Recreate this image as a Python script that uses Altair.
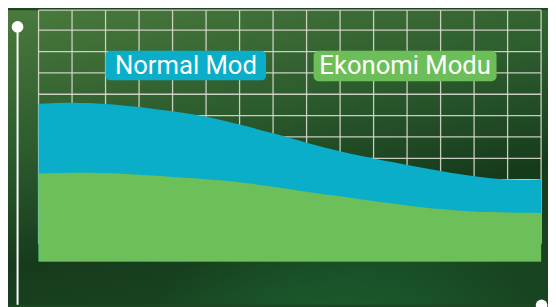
import altair as alt
import pandas as pd

# ---- data (x in grid columns, y in grid rows) ----
x_pos = [0, 0.5, 1, 1.5, 2, 2.5, 3, 3.5, 4, 4.5, 5, 5.5, 6, 6.5, 7, 7.5,
         8, 8.5, 9, 9.5, 10, 10.5, 11, 11.5, 12, 12.5, 13, 13.5, 14, 14.5, 15]
normal_mod = [6.55, 6.60, 6.61, 6.59, 6.54, 6.48, 6.41, 6.30, 6.21, 6.09, 5.95,
              5.78, 5.58, 5.38, 5.17, 4.95, 4.73, 4.52, 4.33, 4.15, 3.99, 3.84,
              3.69, 3.55, 3.41, 3.27, 3.15, 3.06, 3.00, 2.98, 3.02]
ekonomi_modu = [3.28, 3.31, 3.33, 3.33, 3.31, 3.28, 3.23, 3.18, 3.13, 3.08, 3.02,
                2.96, 2.88, 2.78, 2.67, 2.55, 2.43, 2.32, 2.22, 2.11, 2.00, 1.89,
                1.79, 1.70, 1.62, 1.56, 1.51, 1.48, 1.46, 1.45, 1.44]

labels = ["Normal Mod", "Ekonomi Modu"]
label_colors = ["#0aaec9", "#6cbf58"]
box_x = [2.0, 8.21]
box_x2 = [6.79, 13.67]
box_y = [9.04, 9.04]
box_y2 = [7.65, 7.61]
text_x = [4.40, 10.94]
text_y = [8.34, 8.33]

grid_x = list(range(16))
Y_MIN = -0.8306
Y_MAX = 10.937
grid_y = list(range(11)) + [Y_MAX]

BLUE = "#0aaec9"
GREEN = "#6dbf59"

W, H = 510, 255
PAD = {"left": 31, "top": 0, "right": 7, "bottom": 44}

xs = alt.Scale(domain=[0, 15], nice=False, zero=False)
ys = alt.Scale(domain=[Y_MIN, Y_MAX], nice=False, zero=False)

curve = pd.DataFrame({"x": x_pos, "normal": normal_mod, "eko": ekonomi_modu,
                      "base": [Y_MIN] * len(x_pos)})
lab = pd.DataFrame({"label": labels, "color": label_colors, "bx": box_x, "bx2": box_x2,
                    "by": box_y, "by2": box_y2, "tx": text_x, "ty": text_y})
gx = pd.DataFrame({"gx": grid_x, "y0": [0] * len(grid_x), "y1": [Y_MAX] * len(grid_x)})
gy = pd.DataFrame({"gy": grid_y, "x0": [0] * len(grid_y), "x1": [15] * len(grid_y)})
one = pd.DataFrame({"k": [1]})

# background
bg = alt.Chart(one).mark_rect(
    fill=alt.Gradient(
        gradient="linear",
        stops=[alt.GradientStop(color="#4a7a3c", offset=0),
               alt.GradientStop(color="#2b5a2d", offset=0.45),
               alt.GradientStop(color="#163b1c", offset=0.78),
               alt.GradientStop(color="#184421", offset=1)],
        x1=0, y1=0, x2=0.35, y2=1)
).encode(x=alt.value(-PAD["left"]), x2=alt.value(W + PAD["right"]),
         y=alt.value(0), y2=alt.value(H + PAD["bottom"]))

glow = alt.Chart(one).mark_rect(
    fill=alt.Gradient(
        gradient="radial",
        stops=[alt.GradientStop(color="rgba(30,118,58,0.85)", offset=0),
               alt.GradientStop(color="rgba(30,118,58,0)", offset=1)],
        x1=0.62, y1=1.0, r1=0, x2=0.62, y2=1.0, r2=0.42)
).encode(x=alt.value(-PAD["left"]), x2=alt.value(W + PAD["right"]),
         y=alt.value(0), y2=alt.value(H + PAD["bottom"]))

grid_style = dict(color="#dcdcd2", strokeWidth=1.3, opacity=0.9)
vgrid = alt.Chart(gx).mark_rule(**grid_style).encode(
    x=alt.X("gx:Q", scale=xs, axis=None),
    y=alt.Y("y1:Q", scale=ys, axis=None), y2="y0:Q")
hgrid = alt.Chart(gy).mark_rule(**grid_style).encode(
    y=alt.Y("gy:Q", scale=ys, axis=None),
    x=alt.X("x0:Q", scale=xs, axis=None), x2="x1:Q")

base = alt.Chart(curve)
blue = base.mark_area(color=BLUE, interpolate="basis").encode(
    x=alt.X("x:Q", scale=xs, axis=None),
    y=alt.Y("normal:Q", scale=ys, axis=None),
    y2="base:Q")
green = base.mark_area(color=GREEN, interpolate="basis").encode(
    x=alt.X("x:Q", scale=xs, axis=None),
    y=alt.Y("eko:Q", scale=ys, axis=None),
    y2="base:Q")

boxes = alt.Chart(lab).mark_rect(cornerRadius=5).encode(
    x=alt.X("bx:Q", scale=xs, axis=None), x2="bx2:Q",
    y=alt.Y("by:Q", scale=ys, axis=None), y2="by2:Q",
    color=alt.Color("color:N", scale=None, legend=None))
texts = alt.Chart(lab).mark_text(
    font="Roboto", fontSize=26, color="white", align="center", baseline="middle"
).encode(x=alt.X("tx:Q", scale=xs, axis=None),
         y=alt.Y("ty:Q", scale=ys, axis=None),
         text="label:N")

# decorations
vline = alt.Chart(one).mark_rule(color="white", strokeWidth=2).encode(
    x=alt.value(-21.3), y=alt.value(17), y2=alt.value(H + PAD["bottom"]))
dot1 = alt.Chart(one).mark_point(filled=True, shape="circle", size=140,
                                 color="white", opacity=1).encode(
    x=alt.value(-21.3), y=alt.value(17))
dot2 = alt.Chart(one).mark_point(filled=True, shape="circle", size=140,
                                 color="white", opacity=1).encode(
    x=alt.value(510.5), y=alt.value(299.5))

chart = alt.layer(bg, glow, vgrid, hgrid, blue, green, boxes, texts, vline, dot1, dot2).properties(
    width=W, height=H,
    autosize=alt.AutoSizeParams(type="none"),
    padding=PAD,
    background="#1d4622",
).configure_view(stroke=None)

chart.save("out.html", embed_options={"renderer": "svg", "actions": False})
